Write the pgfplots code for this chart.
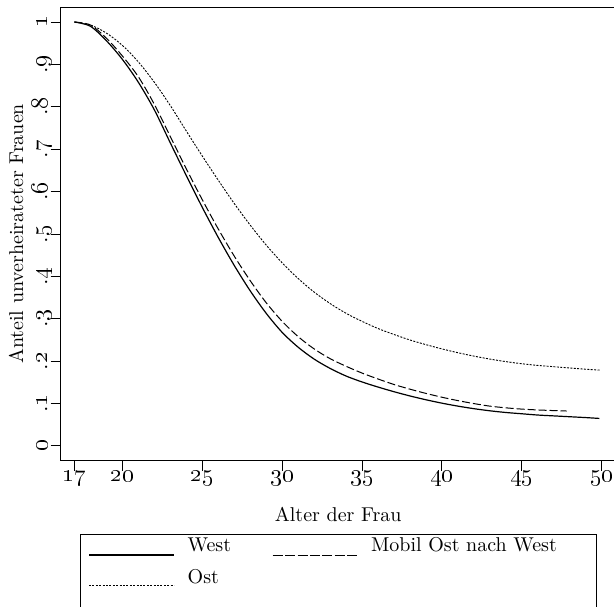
\documentclass[border=0pt]{standalone}
\usepackage{pgfplots}
\pgfplotsset{compat=1.18}

% Anteil unverheirateter Frauen nach Alter
\pgfplotstableread{
age v
17 1.000
18 0.990
19 0.956
20 0.912
21 0.858
22 0.793
23 0.715
24 0.638
25 0.563
26 0.492
27 0.426
28 0.366
29 0.313
30 0.268
31 0.233
32 0.205
33 0.183
34 0.165
35 0.151
36 0.139
37 0.128
38 0.118
39 0.109
40 0.101
41 0.094
42 0.088
43 0.083
44 0.079
45 0.076
46 0.073
47 0.071
48 0.069
49 0.067
49.85 0.065
}\west

\pgfplotstableread{
age v
17 1.000
18 0.993
19 0.962
20 0.920
21 0.871
22 0.806
23 0.730
24 0.654
25 0.581
26 0.512
27 0.448
28 0.390
29 0.338
30 0.294
31 0.258
32 0.229
33 0.206
34 0.188
35 0.172
36 0.158
37 0.145
38 0.134
39 0.124
40 0.115
41 0.107
42 0.100
43 0.094
44 0.090
45 0.087
46 0.085
47 0.0835
47.8 0.0825
}\mobil

\pgfplotstableread{
age v
17 1.000
18 0.993
19 0.974
20 0.945
21 0.906
22 0.858
23 0.803
24 0.743
25 0.684
26 0.627
27 0.572
28 0.521
29 0.474
30 0.432
31 0.395
32 0.363
33 0.336
34 0.313
35 0.294
36 0.277
37 0.263
38 0.250
39 0.239
40 0.229
41 0.220
42 0.212
43 0.205
44 0.199
45 0.194
46 0.190
47 0.187
48 0.184
49 0.181
49.9 0.179
}\ost

\tikzset{
  longdash/.style={line width=0.5pt, dash pattern=on 4pt off 1.5pt},
  shortdash/.style={line width=0.45pt, dash pattern=on 1pt off 0.7pt},
}

\begin{document}
\begin{tikzpicture}
\begin{axis}[
  scale only axis,
  width=277.5pt,
  height=226.7pt,
  xmin=16.143, xmax=50.87,
  ymin=-0.0347, ymax=1.0347,
  axis line style={line width=0.5pt},
  tick pos=left,
  tick align=outside,
  major tick length=5pt,
  tick style={line width=0.5pt, black},
  xtick={17,20,25,30,35,40,45,50},
  xticklabels={\oldstylenums{17},\oldstylenums{20},\oldstylenums{25},\oldstylenums{30},
    \oldstylenums{35},\oldstylenums{40},\oldstylenums{45},\oldstylenums{50}},
  ytick={0,0.1,0.2,0.3,0.4,0.5,0.6,0.7,0.8,0.9,1},
  yticklabels={\oldstylenums{0},.\oldstylenums{1},.\oldstylenums{2},.\oldstylenums{3},
    .\oldstylenums{4},.\oldstylenums{5},.\oldstylenums{6},.\oldstylenums{7},
    .\oldstylenums{8},.\oldstylenums{9},\oldstylenums{1}},
  xticklabel style={anchor=base, inner sep=0pt, font=\fontsize{12}{14}\selectfont},
  yticklabel style={rotate=90, anchor=base, inner sep=0pt, font=\fontsize{12}{14}\selectfont},
  xticklabel shift=5.5pt,
  yticklabel shift=1.6pt,
  xlabel={Alter der Frau},
  ylabel={Anteil unverheirateter Frauen},
  xlabel style={at={(axis description cs:0.5,-0.1345)}, anchor=base, inner sep=0pt},
  ylabel style={at={(axis description cs:-0.0679,0.5)}, anchor=base, inner sep=0pt},
  clip=false,
]
\addplot[black, line width=0.6pt, smooth] table[x=age,y=v] {\west};
\addplot[black, longdash, smooth] table[x=age,y=v] {\mobil};
\addplot[black, shortdash, smooth] table[x=age,y=v] {\ost};
\end{axis}

% legend (bottom edge lies below the picture)
\draw[line width=0.5pt] (9.65pt,-80pt) -- (9.65pt,-36.65pt) -- (267.65pt,-36.65pt) -- (267.65pt,-80pt);
\draw[black, line width=0.6pt] (14.15pt,-47.15pt) -- (56.65pt,-47.15pt);
\node[anchor=base west, inner sep=0pt] at (63.3pt,-45.5pt) {West};
\draw[black, line width=0.5pt, dash pattern=on 5pt off 1.2pt] (106pt,-47.15pt) -- (148.5pt,-47.15pt);
\node[anchor=base west, inner sep=0pt] at (155pt,-45.5pt) {Mobil Ost nach West};
\draw[black, shortdash] (14.15pt,-62.15pt) -- (56.65pt,-62.15pt);
\node[anchor=base west, inner sep=0pt] at (63.3pt,-61.15pt) {Ost};

\pgfresetboundingbox
\useasboundingbox (-30.35pt,-72.65pt) rectangle (276.65pt,230.35pt);
\end{tikzpicture}
\end{document}
